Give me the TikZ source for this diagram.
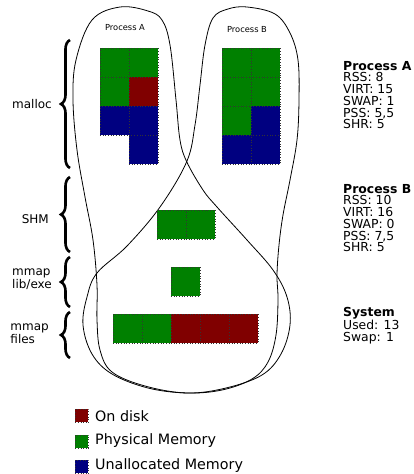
\documentclass[tikz,border=0pt]{standalone}
\usepackage{fontspec}
\setmainfont{DejaVu Sans}
\usetikzlibrary{decorations.pathreplacing}
\definecolor{grn}{HTML}{008000}
\definecolor{red}{HTML}{800000}
\definecolor{blu}{HTML}{000080}
\tikzset{
  cell/.style={draw=black!80, dotted, line width=0.7pt, minimum size=29pt, inner sep=0pt, anchor=north west},
  lcell/.style={draw=black!80, dotted, line width=0.6pt, minimum size=13pt, inner sep=0pt, anchor=north west},
  outline/.style={line width=0.8pt},
  bracestyle/.style={decorate, decoration={brace, amplitude=9pt}, line width=2.6pt},
  leftlab/.style={font=\fontsize{12}{11.5}\selectfont, align=left, anchor=east, inner sep=0pt},
  infolab/.style={font=\fontsize{12.4}{11.7}\selectfont, align=left, anchor=north west, inner sep=0pt},
  proclab/.style={font=\fontsize{8.3}{10}\selectfont, inner sep=0pt},
  leglab/.style={font=\fontsize{14.3}{16}\selectfont, anchor=west, inner sep=0pt}
}
\begin{document}
\begin{tikzpicture}[x=1pt,y=-1pt]
\useasboundingbox (0,0) rectangle (414,474);
% outlines
\draw[outline] plot[smooth cycle, tension=0.6] coordinates {
 (120,7) (148,11) (162,20) (170,45) (176,100) (180,140) (186.7,161.7) (203,190) (217,207)
 (247,240) (273,270) (287,297) (290,325) (281,354) (262,375) (226,388) (187,393)
 (145,386) (112,372) (100,350) (97,320) (97,285) (93,240) (85,197) (77,150) (73,100) (76,60) (92,20)};
\draw[outline] plot[smooth cycle, tension=0.6] coordinates {
 (247,7) (275,14) (290,33) (298,60) (299,100) (297,140) (290,180) (283,215) (279,245)
 (277,275) (278,300) (276,335) (268,362) (252,379) (222,390) (187,393) (148,388)
 (112,374) (92,354) (83,325) (87,297) (97,273) (127,246) (160,207) (186.7,161.7)
 (195,125) (200,85) (205,45) (213,18) (228,9)};
\node[proclab] (pa) at (125,28) {Process A};
\node[proclab] (pb) at (247,30) {Process B};
% Process A cells
\node[cell, fill=grn] (a00) at (99.5,47.5) {};
\node[cell, fill=grn] (a10) at (128.5,47.5) {};
\node[cell, fill=grn] (a01) at (99.5,76.5) {};
\node[cell, fill=red] (a11) at (128.5,76.5) {};
\node[cell, fill=blu] (a02) at (99.5,105.5) {};
\node[cell, fill=blu] (a12) at (128.5,105.5) {};
\node[cell, fill=blu] (a13) at (128.5,134.5) {};
% Process B cells
\node[cell, fill=grn] (b00) at (221.5,47.5) {};
\node[cell, fill=grn] (b10) at (250.5,47.5) {};
\node[cell, fill=grn] (b01) at (221.5,76.5) {};
\node[cell, fill=grn] (b11) at (250.5,76.5) {};
\node[cell, fill=grn] (b02) at (221.5,105.5) {};
\node[cell, fill=blu] (b12) at (250.5,105.5) {};
\node[cell, fill=blu] (b03) at (221.5,134.5) {};
\node[cell, fill=blu] (b13) at (250.5,134.5) {};
% SHM
\node[cell, fill=grn] (s0) at (156.5,209.5) {};
\node[cell, fill=grn] (s1) at (185.5,209.5) {};
% lib
\node[cell, fill=grn] (l0) at (170.5,266.5) {};
% files
\node[cell, fill=grn] (f0) at (112.5,313.5) {};
\node[cell, fill=grn] (f1) at (141.5,313.5) {};
\node[cell, fill=red] (f2) at (170.5,313.5) {};
\node[cell, fill=red] (f3) at (199.5,313.5) {};
\node[cell, fill=red] (f4) at (228.5,313.5) {};
% braces
\coordinate (m1) at (70,168); \coordinate (m2) at (70,40);
\coordinate (h1) at (70,252); \coordinate (h2) at (70,177);
\coordinate (e1) at (70,307); \coordinate (e2) at (70,257);
\coordinate (g1) at (70,358); \coordinate (g2) at (70,312);
\draw[bracestyle] (m1) -- (m2);
\draw[bracestyle] (h1) -- (h2);
\draw[bracestyle] (e1) -- (e2);
\draw[bracestyle] (g1) -- (g2);
\node[leftlab] (lm) at (52,104) {malloc};
\node[leftlab] (lh) at (49,219) {SHM};
\node[leftlab] (le) at (52,279) {mmap\\lib/exe};
\node[leftlab] (lg) at (49,334) {mmap\\files};
% info
\node[infolab] (ia) at (343,61) {\textbf{Process A}\\RSS: 8\\VIRT: 15\\SWAP: 1\\PSS: 5,5\\SHR: 5};
\node[infolab] (ib) at (343,184) {\textbf{Process B}\\RSS: 10\\VIRT: 16\\SWAP: 0\\PSS: 7,5\\SHR: 5};
\node[infolab] (is) at (343,307) {\textbf{System}\\Used: 13\\Swap: 1};
% legend
\node[lcell, fill=red] (k1) at (75,409) {};
\node[lcell, fill=grn] (k2) at (75,434.5) {};
\node[lcell, fill=blu] (k3) at (75,460) {};
\node[leglab] (t1) at (95,416) {On disk};
\node[leglab] (t2) at (95,441) {Physical Memory};
\node[leglab] (t3) at (95,466) {Unallocated Memory};
\end{tikzpicture}
\end{document}
